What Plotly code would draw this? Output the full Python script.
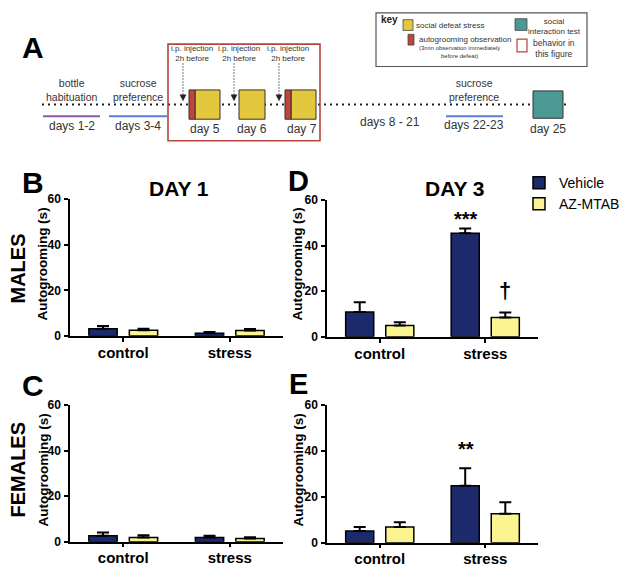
import plotly.graph_objects as go

# ---------------- data ----------------
groups = ["control", "stress"]
series_names = ["Vehicle", "AZ-MTAB"]

b_vehicle = [3.1, 1.1]
b_vehicle_err = [1.2, 0.6]
b_az = [2.4, 2.3]
b_az_err = [0.7, 0.7]

d_vehicle = [10.9, 45.5]
d_vehicle_err = [4.3, 2.1]
d_az = [5.0, 8.5]
d_az_err = [1.4, 2.2]

c_vehicle = [2.6, 1.9]
c_vehicle_err = [1.4, 0.7]
c_az = [1.9, 1.4]
c_az_err = [1.0, 0.6]

e_vehicle = [5.1, 24.8]
e_vehicle_err = [1.7, 7.7]
e_az = [6.8, 12.6]
e_az_err = [2.1, 5.0]

y_ticks = [0, 20, 40, 60]

timeline_top_labels = ["bottle<br>habituation", "sucrose<br>preference", "sucrose<br>preference"]
timeline_day_labels = ["days 1-2", "days 3-4", "day 5", "day 6", "day 7", "days 8 - 21", "days 22-23", "day 25"]
injection_label = "i.p. injection<br>2h before"
key_labels = ["social defeat stress", "autogrooming observation",
              "(3min observation immediately<br>before defeat)",
              "social<br>interaction test", "behavior in<br>this figure"]

# ---------------- style ----------------
W, H = 629, 578
NAVY = "#1c2a6b"
PALE = "#fbf491"
GOLD = "#e3c73c"
RED = "#c0443c"
TEAL = "#4b9994"
FRAME = "#b4453d"
TXT = "#333333"
FONT = "Liberation Sans"
TY = -4  # vertical nudge for the timeline panel


def px(x):
    return x / W


def py(y):
    return 1 - y / H


fig = go.Figure()

panels = [
    ("x", "y", b_vehicle, b_vehicle_err, b_az, b_az_err),
    ("x2", "y2", d_vehicle, d_vehicle_err, d_az, d_az_err),
    ("x3", "y3", c_vehicle, c_vehicle_err, c_az, c_az_err),
    ("x4", "y4", e_vehicle, e_vehicle_err, e_az, e_az_err),
]
for xa, ya, v, ve, a, ae in panels:
    for name, vals, errs, col in [(series_names[0], v, ve, NAVY), (series_names[1], a, ae, PALE)]:
        fig.add_trace(go.Bar(
            x=groups, y=vals, name=name, xaxis=xa, yaxis=ya,
            marker=dict(color=col, line=dict(color="black", width=1.5)),
            error_y=dict(type="data", array=errs, arrayminus=[0] * len(errs), symmetric=False,
                         color="black", thickness=2, width=6),
            showlegend=(xa == "x2"),
        ))

domains = {
    "": ([70, 283], [197, 337]),
    "2": ([327, 538], [198, 338]),
    "3": ([70, 283], [408, 548]),
    "4": ([327, 538], [408, 549]),
}
layout_axes = {}
for k, (xd, yd) in domains.items():
    layout_axes["xaxis" + k] = dict(
        domain=[px(xd[0]), px(xd[1])], anchor="y" + k, showline=True, linecolor="black", linewidth=1.5,
        ticks="outside", ticklen=4, tickwidth=1.5, tickcolor="black", range=[-0.5, 1.5],
        tickfont=dict(family=FONT, size=15, color="black", weight="bold"), showgrid=False, zeroline=False,
        ticklabelstandoff=-2,
    )
    layout_axes["yaxis" + k] = dict(
        domain=[py(yd[1]), py(yd[0])], anchor="x" + k, showline=True, linecolor="black", linewidth=1.5,
        ticks="outside", ticklen=4, tickwidth=1.5, tickcolor="black", range=[0, 60],
        tickvals=y_ticks, tickfont=dict(family=FONT, size=12, color="black", weight="bold"),
        showgrid=False, zeroline=False, ticklabelstandoff=1,
    )

fig.update_layout(
    width=W, height=H, margin=dict(l=0, r=0, t=0, b=0),
    paper_bgcolor="white", plot_bgcolor="white",
    barmode="group", bargap=0.24, bargroupgap=0.3,
    font=dict(family=FONT, color="black"),
    legend=dict(x=px(519), y=py(164), xanchor="left", yanchor="top",
                font=dict(family=FONT, size=14, color="black"), tracegroupgap=0,
                bgcolor="rgba(0,0,0,0)"),
    **layout_axes,
)

ann = []
shapes = []


def text(x, y, t, size, color=TXT, weight="normal", xanchor="center", textangle=0, yanchor="middle"):
    ann.append(dict(x=px(x), y=py(y), xref="paper", yref="paper", text=t, showarrow=False,
                    xanchor=xanchor, yanchor=yanchor, textangle=textangle,
                    font=dict(family=FONT, size=size, color=color, weight=weight)))


def rect(x0, y0, x1, y1, fill, line="black", lw=1):
    shapes.append(dict(type="rect", xref="paper", yref="paper", x0=px(x0), x1=px(x1), y0=py(y1), y1=py(y0),
                       fillcolor=fill, line=dict(color=line, width=lw)))


def hline(x0, x1, y, color, width=2, dash="solid"):
    shapes.append(dict(type="line", xref="paper", yref="paper", x0=px(x0), x1=px(x1), y0=py(y), y1=py(y),
                       line=dict(color=color, width=width, dash=dash)))


# panel letters and row labels
text(33, 45 + TY, "A", 30, "black", "bold")
text(33, 180, "B", 30, "black", "bold")
text(298, 178, "D", 29, "black", "bold")
text(33, 388, "C", 30, "black", "bold")
text(298, 386, "E", 29, "black", "bold")
text(179, 186, "DAY 1", 21, "black", "bold")
text(455, 186, "DAY 3", 21, "black", "bold")
text(18, 268, "MALES", 20, "black", "bold", textangle=-90)
text(18, 474, "FEMALES", 20, "black", "bold", textangle=-90)
for xx, yy in [(43, 264), (298, 264), (43, 475), (298, 475)]:
    text(xx, yy, "Autogrooming (s)", 13.5, "black", "bold", textangle=-90)

# significance markers positioned relative to bar tops
ann.append(dict(x="stress", y=d_vehicle[1] + d_vehicle_err[1] + 4.3, xref="x2", yref="y2", text="***",
                showarrow=False, xshift=-19, font=dict(family=FONT, size=20, color="black", weight="bold")))
ann.append(dict(x="stress", y=d_az[1] + d_az_err[1] + 9.8, xref="x2", yref="y2", text="†",
                showarrow=False, xshift=20, font=dict(family=FONT, size=22, color="black", weight="bold")))
ann.append(dict(x="stress", y=e_vehicle[1] + e_vehicle_err[1] + 8.5, xref="x4", yref="y4", text="**",
                showarrow=False, xshift=-19, font=dict(family=FONT, size=20, color="black", weight="bold")))

# ---------------- timeline (panel A) ----------------
hline(42, 567, 104 + TY, "#222222", width=2, dash="2px,4px")
rect(168, 42 + TY, 320, 141 + TY, "rgba(0,0,0,0)", FRAME, 1.6)

text(72, 89 + TY, timeline_top_labels[0], 10.5)
text(138, 89 + TY, timeline_top_labels[1], 10.5)
text(474, 89 + TY, timeline_top_labels[2], 10.5)
hline(43, 100, 116 + TY, "#8e5aa8", 2)
hline(109, 167, 116 + TY, "#5a7fd2", 2)
hline(446, 503, 116 + TY, "#5a7fd2", 2)

text(72, 126 + TY, timeline_day_labels[0], 12)
text(138, 126 + TY, timeline_day_labels[1], 12)
text(205, 129 + TY, timeline_day_labels[2], 12)
text(252, 129 + TY, timeline_day_labels[3], 12)
text(302, 129 + TY, timeline_day_labels[4], 12)
text(390, 122 + TY, timeline_day_labels[5], 12)
text(474, 125 + TY, timeline_day_labels[6], 12)
text(548, 129 + TY, timeline_day_labels[7], 12)

# defeat boxes
rect(195, 89 + TY, 220, 119 + TY, GOLD, "#333333", 1)
rect(189, 89 + TY, 195, 119 + TY, RED, "#333333", 1)
rect(239, 89 + TY, 265, 119 + TY, GOLD, "#333333", 1)
rect(291, 89 + TY, 316, 119 + TY, GOLD, "#333333", 1)
rect(285, 89 + TY, 291, 119 + TY, RED, "#333333", 1)
rect(533, 90 + TY, 563, 118 + TY, TEAL, "#333333", 1)

# injection arrows
for tx, ax in [(192, 183), (239, 234), (288, 279)]:
    text(tx, 52 + TY, injection_label, 8)
    shapes.append(dict(type="line", xref="paper", yref="paper", x0=px(ax), x1=px(ax),
                       y0=py(62 + TY), y1=py(95 + TY),
                       line=dict(color="#222222", width=1.2, dash="1px,2px")))
    shapes.append(dict(type="path", xref="paper", yref="paper",
                       path=f"M{px(ax-3)},{py(94 + TY)} L{px(ax+3)},{py(94 + TY)} L{px(ax)},{py(100 + TY)} Z",
                       fillcolor="#222222", line=dict(color="#222222", width=0.5)))

# key box
rect(376, 10 + TY, 587, 65 + TY, "white", "#555555", 1.2)
text(379, 17 + TY, "key", 10, "#222222", "bold", xanchor="left")
rect(403, 17 + TY, 413, 28 + TY, GOLD, "#444444", 0.8)
text(414, 23 + TY, key_labels[0], 8, xanchor="left")
rect(408, 32 + TY, 414, 43 + TY, RED, "#444444", 0.8)
text(417, 37 + TY, key_labels[1], 8, xanchor="left")
text(417, 50 + TY, key_labels[2], 6, xanchor="left")
rect(515, 16 + TY, 527, 28 + TY, TEAL, "#444444", 0.8)
text(554, 24 + TY, key_labels[3], 8)
rect(517, 37 + TY, 527, 50 + TY, "white", FRAME, 1.2)
text(554, 47 + TY, key_labels[4], 8.5)

fig.update_layout(annotations=ann, shapes=shapes)
fig.write_html("out.html", config={"displayModeBar": False},
               post_script="document.body.style.margin='0';")
